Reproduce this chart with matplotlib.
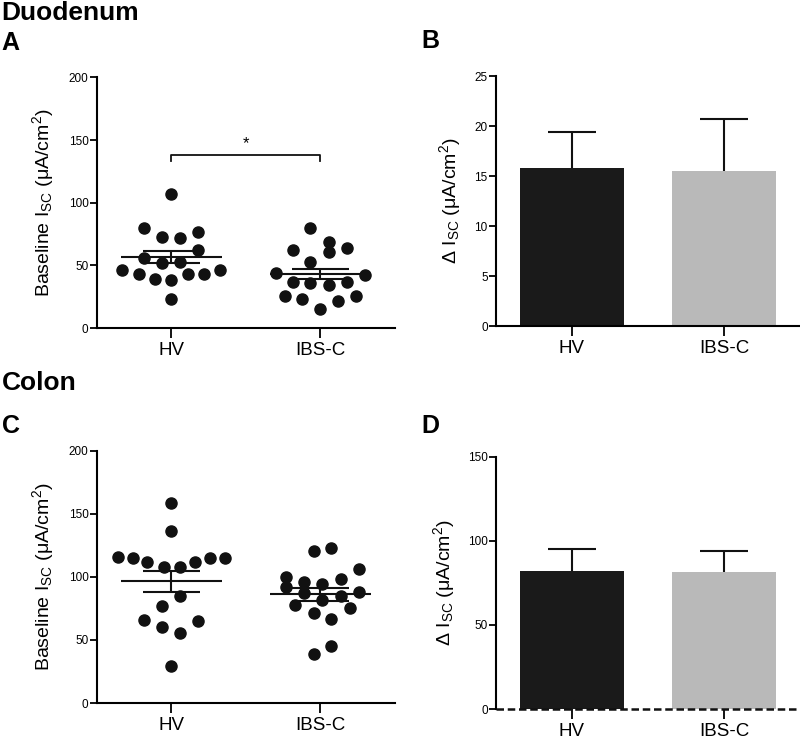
import matplotlib
matplotlib.use("Agg")
import matplotlib.pyplot as plt
import numpy as np

plt.rcParams["font.family"] = ["Liberation Sans", "DejaVu Sans"]
plt.rcParams["mathtext.fontset"] = "custom"
plt.rcParams["mathtext.rm"] = "Liberation Sans"
plt.rcParams["mathtext.it"] = "Liberation Sans"

GROUPS = ["HV", "IBS-C"]

# panel A - duodenum baseline Isc
duo_hv = [107, 79.5, 77, 73, 72, 62, 56, 52, 53, 46, 43, 39, 38, 43, 43, 46, 23]
duo_ibs = [80, 69, 61, 62, 64, 53, 44, 42, 37, 36, 34, 37, 26, 23, 22, 26, 15]
duo_mean = [56.5, 43.5]
duo_sem = [4.7, 4.0]

# panel C - colon baseline Isc
col_hv = [158.7, 136, 116, 115, 112, 108, 108, 112, 115, 115, 77, 85, 66, 65, 60, 55.5, 29]
col_ibs = [120.6, 123, 106.6, 100, 92, 96, 94.7, 98.7, 87, 88, 85, 81.5, 77.5, 75,
           71.7, 67, 45, 39]
col_mean = [96.6, 86.2]
col_sem = [8.2, 5.0]

# x offsets of the scatter points (column layout)
duo_hv_dx = [0, -0.18, 0.18, -0.06, 0.06, 0.18, -0.18, -0.06, 0.06, -0.33, -0.22,
             -0.11, 0, 0.11, 0.22, 0.33, 0]
duo_ibs_dx = [-0.07, 0.06, 0.06, -0.18, 0.18, -0.07, -0.30, 0.30, -0.18, -0.07, 0.06,
              0.18, -0.24, -0.12, 0.12, 0.24, 0]
col_hv_dx = [0, 0, -0.36, -0.26, -0.16, -0.05, 0.06, 0.16, 0.26, 0.36, -0.06, 0.06,
             -0.18, 0.18, -0.06, 0.06, 0]
col_ibs_dx = [-0.045, 0.075, 0.26, -0.23, -0.23, -0.11, 0.01, 0.14, -0.11, 0.26, 0.14,
              0.01, -0.17, 0.20, -0.045, 0.075, 0.075, -0.045]

# panels B and D - delta Isc bars
duo_delta = [15.8, 15.5]
duo_delta_err = [3.6, 5.2]
col_delta = [82.3, 81.3]
col_delta_err = [12.9, 12.9]

fig = plt.figure(figsize=(8, 7.44), dpi=100)

ylab_base = r"Baseline I$_{\mathrm{SC}}$ ($\mu$A/cm$^{2}$)"
ylab_delta = r"$\Delta$ I$_{\mathrm{SC}}$ ($\mu$A/cm$^{2}$)"


def style_ax(ax):
    for s in ["top", "right"]:
        ax.spines[s].set_visible(False)
    for s in ["left", "bottom"]:
        ax.spines[s].set_linewidth(1.5)
    ax.tick_params(axis="y", direction="out", length=5, width=1.3, labelsize=8.5, pad=1)
    ax.tick_params(axis="x", direction="out", length=7, width=1.3, labelsize=13.5, pad=3)
    ax.set_xticks([0, 1])
    ax.set_xticklabels(GROUPS)
    ax.set_xlim(-0.5, 1.5)


def scatter_panel(ax, hv, ibs, hv_dx, ibs_dx, mean, sem):
    ax.plot(np.array(hv_dx) + 0, hv, "o", color="#111111", ms=8, clip_on=False)
    ax.plot(np.array(ibs_dx) + 1, ibs, "o", color="#111111", ms=8, clip_on=False)
    for i in range(2):
        ax.hlines(mean[i], i - 0.34, i + 0.34, color="#111111", lw=1.5, zorder=3)
        ax.hlines([mean[i] - sem[i], mean[i] + sem[i]], i - 0.19, i + 0.19,
                  color="#111111", lw=1.5, zorder=3)
        ax.vlines(i, mean[i] - sem[i], mean[i] + sem[i], color="#111111", lw=1.5, zorder=3)
    ax.set_ylim(0, 200)
    ax.set_yticks([0, 50, 100, 150, 200])
    ax.set_ylabel(ylab_base, fontsize=14, labelpad=9)
    style_ax(ax)


def bar_panel(ax, vals, errs):
    ax.bar([0, 1], vals, width=0.68, color=["#1a1a1a", "#b9b9b9"], zorder=2)
    for i in range(2):
        ax.vlines(i, vals[i], vals[i] + errs[i], color="#111111", lw=1.5, zorder=1)
        ax.hlines(vals[i] + errs[i], i - 0.155, i + 0.155, color="#111111", lw=1.5)
    ax.set_ylabel(ylab_delta, fontsize=14, labelpad=8)
    style_ax(ax)


# A
axA = fig.add_axes([0.121, 0.559, 0.3725, 0.337])
scatter_panel(axA, duo_hv, duo_ibs, duo_hv_dx, duo_ibs_dx, duo_mean, duo_sem)
axA.plot([0, 0, 1, 1], [133, 138, 138, 133], color="#111111", lw=1.3)
axA.text(0.5, 141, "*", ha="center", va="bottom", fontsize=12)

# B
axB = fig.add_axes([0.62, 0.5618, 0.38, 0.336])
bar_panel(axB, duo_delta, duo_delta_err)
axB.set_ylim(0, 25)
axB.set_yticks([0, 5, 10, 15, 20, 25])

# C
axC = fig.add_axes([0.121, 0.0551, 0.3725, 0.339])
scatter_panel(axC, col_hv, col_ibs, col_hv_dx, col_ibs_dx, col_mean, col_sem)

# D
axD = fig.add_axes([0.62, 0.047, 0.38, 0.339])
bar_panel(axD, col_delta, col_delta_err)
axD.set_ylim(0, 150)
axD.set_yticks([0, 50, 100, 150])
axD.spines["bottom"].set_visible(False)
axD.axhline(0, color="#111111", lw=1.8, ls=(0, (3, 1.5)), zorder=4, clip_on=False)

# section titles and panel letters
fig.text(0.002, 0.973, "Duodenum", fontsize=19, fontweight="bold", va="baseline")
fig.text(0.002, 0.933, "A", fontsize=18, fontweight="bold", va="baseline")
fig.text(0.527, 0.9355, "B", fontsize=18, fontweight="bold", va="baseline")
fig.text(0.002, 0.476, "Colon", fontsize=19, fontweight="bold", va="baseline")
fig.text(0.002, 0.418, "C", fontsize=18, fontweight="bold", va="baseline")
fig.text(0.527, 0.418, "D", fontsize=18, fontweight="bold", va="baseline")

fig.savefig("out.png", dpi=100)
